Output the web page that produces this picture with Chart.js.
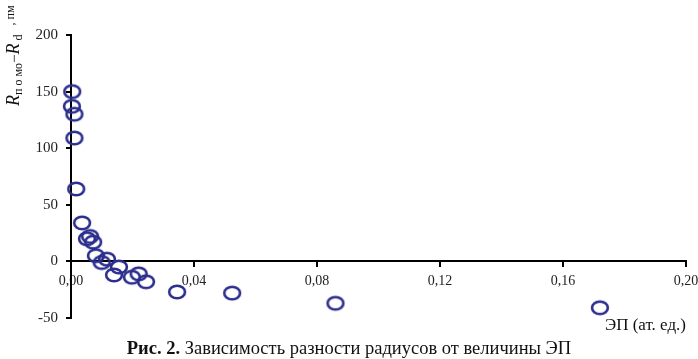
<!DOCTYPE html>
<html><head><meta charset="utf-8">
<script src="https://cdn.jsdelivr.net/npm/chart.js@4"></script>
<style>html,body{margin:0;padding:0;background:#fff}#wrap{width:698px;height:359px}</style>
</head><body><div id="wrap"><canvas id="c" width="698" height="359"></canvas></div>
<script>
const epValues = [0.0004, 0.0003, 0.0011, 0.0011, 0.0017, 0.0036, 0.0052, 0.0062, 0.0072, 0.0081, 0.0100, 0.0117, 0.0140, 0.0156, 0.0198, 0.0220, 0.0244, 0.0345, 0.0524, 0.0860, 0.1720];
const radiusDiff = [150, 137, 130, 109, 64, 34, 20, 22, 17, 5, -1, 2, -12, -5, -14, -11, -18, -27, -28, -37, -41];
const xTicks = [0, 0.04, 0.08, 0.12, 0.16, 0.20];
const yTicks = [-50, 0, 50, 100, 150, 200];
const captionBold = 'Рис. 2.';
const captionText = ' Зависимость разности радиусов от величины ЭП';
const xTitle = 'ЭП (ат. ед.)';

const points = epValues.map((x, i) => ({x, y: radiusDiff[i]}));
const SERIF = '"Liberation Serif", "Times New Roman", serif';

// elliptical open marker
const marker = document.createElement('canvas');
marker.width = 22; marker.height = 18;
(function () {
  const m = marker.getContext('2d');
  m.strokeStyle = '#2b2e8c';
  m.lineWidth = 2.6;
  m.beginPath();
  m.ellipse(11, 9, 7.9, 6.3, 0, 0, Math.PI * 2);
  m.stroke();
})();

const textPlugin = {
  id: 'texts',
  afterDraw(chart) {
    const ctx = chart.ctx;
    ctx.save();
    ctx.fillStyle = '#111';
    // x title
    ctx.font = '17px ' + SERIF;
    ctx.textBaseline = 'middle';
    ctx.textAlign = 'right';
    ctx.fillText(xTitle, 686, 326);
    // caption
    ctx.textAlign = 'left';
    ctx.font = 'bold 18.5px ' + SERIF;
    const wb = ctx.measureText(captionBold).width;
    ctx.font = '18.5px ' + SERIF;
    const wt = ctx.measureText(captionText).width;
    const x0 = 349 - (wb + wt) / 2;
    ctx.font = 'bold 18.5px ' + SERIF;
    ctx.fillText(captionBold, x0, 349);
    ctx.font = '18.5px ' + SERIF;
    ctx.fillText(captionText, x0 + wb, 349);
    // y title, rotated
    ctx.translate(19, 106);
    ctx.rotate(-Math.PI / 2);
    ctx.textBaseline = 'alphabetic';
    let cx = 0;
    const part = (t, font, dy) => { ctx.font = font; ctx.fillText(t, cx, dy); cx += ctx.measureText(t).width; };
    part('R', 'italic 18px ' + SERIF, 0);
    part('п о мо', '12px ' + SERIF, 3);
    part('−', '15px ' + SERIF, 0);
    part('R', 'italic 18px ' + SERIF, 0);
    part(' d', '12px ' + SERIF, 3);
    part('   , пм', '12px ' + SERIF, -5);
    ctx.restore();
  }
};

new Chart(document.getElementById('c'), {
  type: 'scatter',
  data: { datasets: [{
    data: points,
    pointStyle: marker,
    pointRadius: 8,
    pointHoverRadius: 8,
    showLine: false,
    clip: false
  }]},
  options: {
    responsive: false,
    animation: false,
    events: [],
    layout: { padding: { left: 0, right: 12, top: 35, bottom: 41 } },
    plugins: { legend: { display: false }, tooltip: { enabled: false } },
    scales: {
      x: {
        type: 'linear',
        position: { y: 0 },
        min: 0, max: 0.2,
        afterBuildTicks(s) { s.ticks = xTicks.map(v => ({value: v})); },
        afterFit(s) { s.paddingLeft = 0; s.paddingRight = 0; },
        ticks: {
          color: '#222', padding: 7, maxRotation: 0,
          font: { family: SERIF, size: 14 },
          callback: v => v.toFixed(2).replace('.', ',')
        },
        grid: { drawOnChartArea: false, drawTicks: true, tickLength: 5, color: '#000', lineWidth: 2 },
        border: { display: true, color: '#000', width: 2 }
      },
      y: {
        type: 'linear',
        min: -50, max: 200,
        afterBuildTicks(s) { s.ticks = yTicks.map(v => ({value: v})); },
        afterFit(s) { s.width = 71; },
        ticks: {
          color: '#222', padding: 8,
          font: { family: SERIF, size: 15 },
          callback: v => String(v)
        },
        grid: { drawOnChartArea: false, drawTicks: true, tickLength: 5, color: '#000', lineWidth: 2 },
        border: { display: true, color: '#000', width: 2 }
      }
    }
  },
  plugins: [textPlugin]
});
</script></body></html>
